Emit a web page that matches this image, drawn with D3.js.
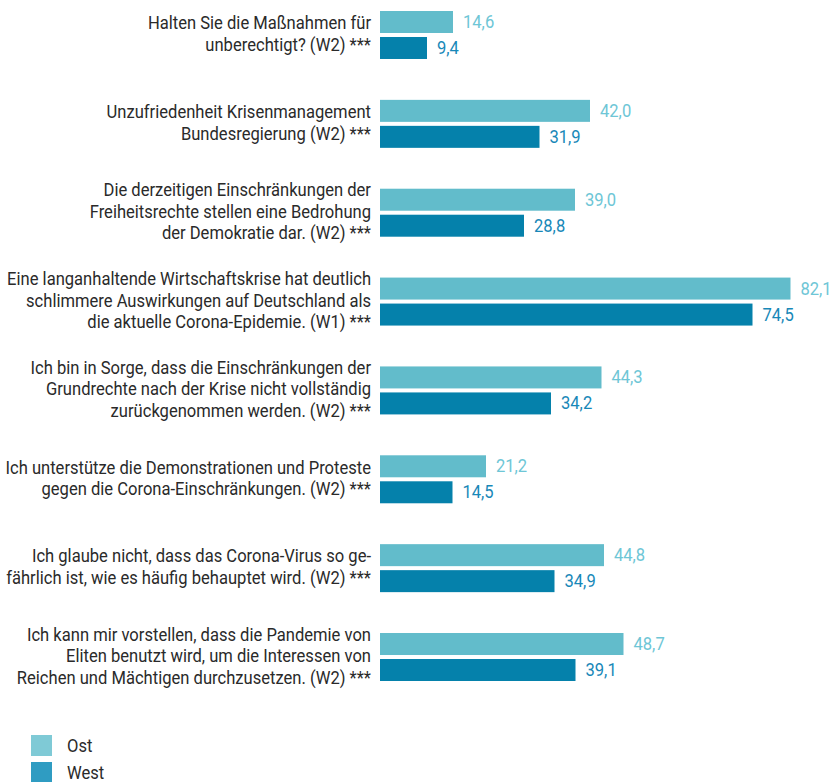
<!DOCTYPE html>
<html>
<head>
<meta charset="utf-8">
<script src="https://cdn.jsdelivr.net/npm/d3@7"></script>
<style>
	body { margin: 0; background: #fff; }
	svg text { font-family: Roboto, "Liberation Sans", sans-serif; }
</style>
</head>
<body>
<svg id="chart" width="830" height="782"></svg>
<script>
const WIDTH = 830,
	  HEIGHT = 782;

// statements, one entry per group (lines as in the original)
const categories = [
	["Halten Sie die Maßnahmen für", "unberechtigt? (W2) ***"],
	["Unzufriedenheit Krisenmanagement", "Bundesregierung (W2) ***"],
	["Die derzeitigen Einschränkungen der", "Freiheitsrechte stellen eine Bedrohung", "der Demokratie dar. (W2) ***"],
	["Eine langanhaltende Wirtschaftskrise hat deutlich", "schlimmere Auswirkungen auf Deutschland als", "die aktuelle Corona-Epidemie. (W1) ***"],
	["Ich bin in Sorge, dass die Einschränkungen der", "Grundrechte nach der Krise nicht vollständig", "zurückgenommen werden. (W2) ***"],
	["Ich unterstütze die Demonstrationen und Proteste", "gegen die Corona-Einschränkungen. (W2) ***"],
	["Ich glaube nicht, dass das Corona-Virus so ge-", "fährlich ist, wie es häufig behauptet wird. (W2) ***"],
	["Ich kann mir vorstellen, dass die Pandemie von", "Eliten benutzt wird, um die Interessen von", "Reichen und Mächtigen durchzusetzen. (W2) ***"]
];

const series = ["Ost", "West"];
const ostValues = [14.6, 42.0, 39.0, 82.1, 44.3, 21.2, 44.8, 48.7];
const westValues = [9.4, 31.9, 28.8, 74.5, 34.2, 14.5, 34.9, 39.1];

const barColors = {Ost: "#62bccb", West: "#0581ab"},
	  textColors = {Ost: "#6ec6d6", West: "#1888b8"},
	  legendColors = {Ost: "#7fcad6", West: "#2f9cc2"};

const svg = d3.select("#chart");

let ids = categories.map((c, i) => "g" + i);

// scales
let x = d3.scaleLinear()
	.domain([0, 90])
	.range([380, 830]);

let y0 = d3.scaleBand()
	.domain(ids)
	.range([11, 681])
	.paddingInner(0.46)
	.paddingOuter(0);

let y1 = d3.scaleBand()
	.domain(series)
	.range([0, y0.bandwidth()])
	.paddingInner(0.154);

let rows = categories.map((lines, i) => ({
	id: ids[i],
	lines: lines,
	values: [{key: "Ost", value: ostValues[i]}, {key: "West", value: westValues[i]}]
}));

// no condensed font installed: measure the widest line and squeeze text horizontally
let probe = svg.append("text")
	.style("font-size", "18px")
	.text(categories[3][0]);
const SX = 364 / probe.node().getComputedTextLength();
probe.remove();

function condense(sel, ax) {
	sel.attr("transform", d => {
		let a = typeof ax === "function" ? ax(d) : ax;
		return "translate(" + a + ",0) scale(" + SX + ",1) translate(" + (-a) + ",0)";
	});
}

let group = svg.selectAll(".group")
	.data(rows)
	.enter().append("g")
		.attr("class", "group")
		.attr("transform", d => "translate(0," + y0(d.id) + ")");

// category labels
const LINE_H = 21.5;
let labels = group.append("text")
	.attr("text-anchor", "end")
	.style("font-size", "18px")
	.style("fill", "#2a2a2a")
	.each(function(d) {
		let t = d3.select(this),
			mid = y0.bandwidth() / 2,
			n = d.lines.length;
		d.lines.forEach((line, k) => {
			t.append("tspan")
				.attr("x", 371)
				.attr("y", mid + (k - (n - 1) / 2) * LINE_H + 5)
				.text(line);
		});
	});
condense(labels, 371);

// bars
group.selectAll("rect")
	.data(d => d.values)
	.enter().append("rect")
		.attr("x", x(0))
		.attr("y", d => y1(d.key))
		.attr("width", d => x(d.value) - x(0))
		.attr("height", y1.bandwidth())
		.style("fill", d => barColors[d.key]);

// value labels
let values = group.selectAll(".value")
	.data(d => d.values)
	.enter().append("text")
		.attr("class", "value")
		.attr("x", d => x(d.value) + 10)
		.attr("y", d => y1(d.key) + y1.bandwidth() / 2 + 6)
		.style("font-size", "18px")
		.style("fill", d => textColors[d.key])
		.text(d => d.value.toFixed(1).replace(".", ","));
condense(values, d => x(d.value) + 10);

// legend
let legend = svg.selectAll(".legend")
	.data(series)
	.enter().append("g")
		.attr("class", "legend")
		.attr("transform", (d, i) => "translate(31," + (735 + i * 27) + ")");

legend.append("rect")
	.attr("width", 21)
	.attr("height", 21)
	.style("fill", d => legendColors[d]);

let legendText = legend.append("text")
	.attr("x", 36)
	.attr("y", 17)
	.style("font-size", "18px")
	.style("fill", "#2a2a2a")
	.text(d => d);
condense(legendText, 36);
</script>
</body>
</html>
